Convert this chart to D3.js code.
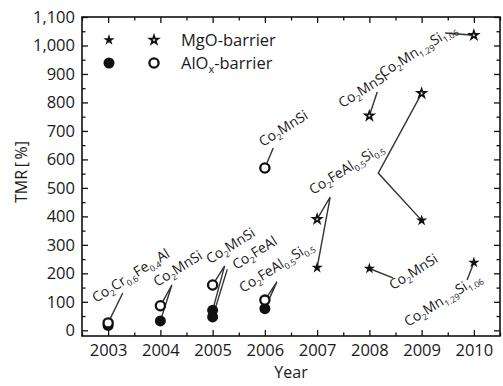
<!DOCTYPE html>
<html>
<head>
<meta charset="utf-8">
<script src="https://cdn.jsdelivr.net/npm/d3@7"></script>
<style>
  body { margin: 0; background: #fff; }
  svg { display: block; }
  text { font-family: "Open Sans", sans-serif; fill: #1a1a1a; }
</style>
</head>
<body>
<div id="chart"></div>
<script>
// year ticks and TMR ticks
const years = [2003, 2004, 2005, 2006, 2007, 2008, 2009, 2010];
const yTicks = [0, 100, 200, 300, 400, 500, 600, 700, 800, 900, 1000, 1100];

// AlOx-barrier (circles), MgO-barrier (stars); filled = RT, open = low T
const alFilled = [[2003, 17], [2004, 33], [2005, 70], [2005, 47], [2006, 76]];
const alOpen = [[2003, 26], [2004, 86], [2005, 159], [2006, 570], [2006, 106]];
const mgFilled = [[2007, 220], [2008, 217], [2009, 386], [2010, 238]];
const mgOpen = [[2007, 390], [2008, 753], [2009, 832], [2010, 1036]];

// material labels, anchored in data space (start of baseline)
const labels = [
  ["Co_2Cr_0.6Fe_0.4Al", 2002.77, 96],
  ["Co_2MnSi", 2003.94, 152],
  ["Co_2MnSi", 2004.95, 232],
  ["Co_2FeAl", 2005.45, 212],
  ["Co_2FeAl_0.5Si_0.5", 2005.58, 131],
  ["Co_2MnSi", 2005.96, 644],
  ["Co_2FeAl_0.5Si_0.5", 2006.92, 475],
  ["Co_2MnSi", 2007.48, 780],
  ["Co_2Mn_1.29Si_1.06", 2008.26, 886],
  ["Co_2MnSi", 2008.45, 141],
  ["Co_2Mn_1.29Si_1.06", 2008.74, 12]
];

// leader lines from points to labels
const leaders = [
  [[2003, 26], [2003.28, 131]],
  [[2004, 33], [2004.22, 159], [2004, 86]],
  [[2005, 70], [2005.23, 226], [2005, 159]],
  [[2005, 47], [2005.28, 214]],
  [[2006, 76], [2006.23, 170], [2006, 106]],
  [[2006, 570], [2006.16, 640]],
  [[2007, 220], [2007.25, 468], [2007, 390]],
  [[2009, 386], [2008.17, 552], [2009, 832]],
  [[2008, 753], [2008.15, 837]],
  [[2009.45, 1044], [2010, 1036]],
  [[2008, 217], [2008.45, 184]],
  [[2010, 238], [2009.87, 177]]
];

const W = 503, H = 386;
const margin = {top: 17, right: 3, bottom: 50, left: 82};
const width = W - margin.left - margin.right;
const height = H - margin.top - margin.bottom;

const svg = d3.select('#chart').append('svg')
  .attr('width', W).attr('height', H);
const g = svg.append('g')
  .attr('transform', 'translate(' + margin.left + ',' + margin.top + ')');

const x = d3.scaleLinear().domain([2002.5, 2010.5]).range([0, width]);
const y = d3.scaleLinear().domain([-20, 1100]).range([height, 0]);

const halfYears = years.map(d => d - 0.5).concat([2010.5]);
const halfTicks = yTicks.map(d => d + 50).filter(d => d < 1100);

function styleAxis(sel) {
  sel.select('.domain').remove();
  sel.selectAll('line').attr('stroke', '#111').attr('stroke-width', 1.3);
  sel.selectAll('text').style('font-family', '"Open Sans", sans-serif')
    .style('font-size', '16.5px').attr('fill', '#1a1a1a');
}

// major axes
g.append('g').attr('transform', 'translate(0,' + height + ')')
  .call(d3.axisBottom(x).tickValues(years).tickFormat(d3.format('d'))
    .tickSizeInner(-6).tickSizeOuter(0).tickPadding(8))
  .call(styleAxis);
g.append('g')
  .call(d3.axisLeft(y).tickValues(yTicks).tickFormat(d3.format(','))
    .tickSizeInner(-6).tickSizeOuter(0).tickPadding(7))
  .call(styleAxis);
g.append('g')
  .call(d3.axisTop(x).tickValues(years).tickFormat('').tickSizeInner(-6).tickSizeOuter(0))
  .call(styleAxis);
g.append('g').attr('transform', 'translate(' + width + ',0)')
  .call(d3.axisRight(y).tickValues(yTicks).tickFormat('').tickSizeInner(-6).tickSizeOuter(0))
  .call(styleAxis);

// minor ticks
g.append('g').attr('transform', 'translate(0,' + height + ')')
  .call(d3.axisBottom(x).tickValues(halfYears).tickFormat('').tickSizeInner(-3.5).tickSizeOuter(0))
  .call(styleAxis);
g.append('g')
  .call(d3.axisTop(x).tickValues(halfYears).tickFormat('').tickSizeInner(-3.5).tickSizeOuter(0))
  .call(styleAxis);
g.append('g')
  .call(d3.axisLeft(y).tickValues(halfTicks).tickFormat('').tickSizeInner(-3.5).tickSizeOuter(0))
  .call(styleAxis);
g.append('g').attr('transform', 'translate(' + width + ',0)')
  .call(d3.axisRight(y).tickValues(halfTicks).tickFormat('').tickSizeInner(-3.5).tickSizeOuter(0))
  .call(styleAxis);

// frame
g.append('rect').attr('width', width).attr('height', height)
  .attr('fill', 'none').attr('stroke', '#111').attr('stroke-width', 1.6);

// axis titles
svg.append('text')
  .attr('transform', 'translate(27,172) rotate(-90)')
  .attr('text-anchor', 'middle').style('font-size', '16px')
  .text('TMR\u2009[\u2009%]');
svg.append('text')
  .attr('x', margin.left + width / 2).attr('y', 378)
  .attr('text-anchor', 'middle').style('font-size', '16px')
  .text('Year');

// rich text with _subscripts
function richText(sel, str, base, sub) {
  const parts = str.split(/_([0-9.x]+)/);
  let shifted = false;
  parts.forEach((p, i) => {
    if (!p) return;
    const isSub = i % 2 === 1;
    const t = sel.append('tspan').text(p).style('font-size', (isSub ? sub : base) + 'px');
    if (isSub && !shifted) { t.attr('dy', 3.5); shifted = true; }
    else if (!isSub && shifted) { t.attr('dy', -3.5); shifted = false; }
  });
}

// leaders
const line = d3.line().x(d => x(d[0])).y(d => y(d[1]));
g.append('g').selectAll('path').data(leaders).join('path')
  .attr('d', line).attr('fill', 'none')
  .attr('stroke', '#333').attr('stroke-width', 1.4);

// markers
const starFilled = d3.symbol().type(d3.symbolStar).size(40);
const starOpen = d3.symbol().type(d3.symbolStar).size(22);

g.append('g').selectAll('circle').data(alFilled).join('circle')
  .attr('cx', d => x(d[0])).attr('cy', d => y(d[1])).attr('r', 5.5)
  .attr('fill', '#111');
g.append('g').selectAll('circle').data(alOpen).join('circle')
  .attr('cx', d => x(d[0])).attr('cy', d => y(d[1])).attr('r', 4.6)
  .attr('fill', '#fff').attr('stroke', '#111').attr('stroke-width', 2.3);
g.append('g').selectAll('path').data(mgFilled).join('path')
  .attr('transform', d => 'translate(' + x(d[0]) + ',' + y(d[1]) + ')')
  .attr('d', starFilled).attr('fill', '#111');
g.append('g').selectAll('path').data(mgOpen).join('path')
  .attr('transform', d => 'translate(' + x(d[0]) + ',' + y(d[1]) + ')')
  .attr('d', starOpen).attr('fill', '#fff').attr('stroke', '#111').attr('stroke-width', 1.7);

// material labels
g.append('g').selectAll('text').data(labels).join('text')
  .attr('transform', d => 'translate(' + x(d[1]) + ',' + y(d[2]) + ') rotate(-32)')
  .each(function(d) { richText(d3.select(this), d[0], 14, 8.5); });

// legend
const lg = svg.append('g');
lg.append('path').attr('transform', 'translate(109,40)').attr('d', starFilled).attr('fill', '#111');
lg.append('path').attr('transform', 'translate(154,40)').attr('d', starOpen)
  .attr('fill', '#fff').attr('stroke', '#111').attr('stroke-width', 1.7);
lg.append('circle').attr('cx', 109).attr('cy', 63).attr('r', 5.5).attr('fill', '#111');
lg.append('circle').attr('cx', 154).attr('cy', 63).attr('r', 4.6)
  .attr('fill', '#fff').attr('stroke', '#111').attr('stroke-width', 2.3);
lg.append('text').attr('x', 181).attr('y', 46)
  .each(function() { richText(d3.select(this), 'MgO-barrier', 16.5, 11); });
lg.append('text').attr('x', 181).attr('y', 69)
  .each(function() { richText(d3.select(this), 'AlO_x-barrier', 16.5, 11); });
</script>
</body>
</html>
